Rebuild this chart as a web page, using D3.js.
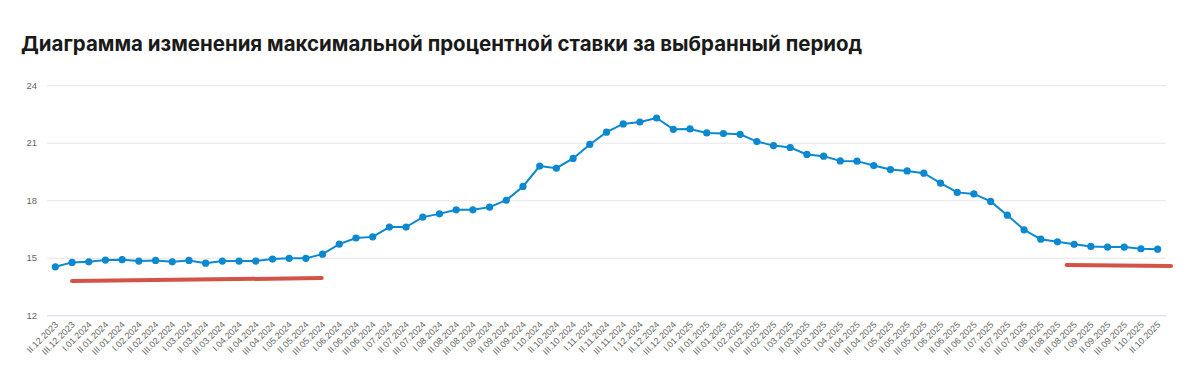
<!DOCTYPE html>
<html><head><meta charset="utf-8">
<script src="https://cdn.jsdelivr.net/npm/d3@7/dist/d3.min.js"></script>
<style>
html,body{margin:0;padding:0;background:#fff;}
svg{display:block;}
</style></head>
<body><svg id="c" width="1200" height="368"></svg>
<script>
const titleText = "Диаграмма изменения максимальной процентной ставки за выбранный период";

const categories = [
 "II.12.2023","III.12.2023",
 "I.01.2024","II.01.2024","III.01.2024","I.02.2024","II.02.2024","III.02.2024",
 "I.03.2024","II.03.2024","III.03.2024","I.04.2024","II.04.2024","III.04.2024",
 "I.05.2024","II.05.2024","III.05.2024","I.06.2024","II.06.2024","III.06.2024",
 "I.07.2024","II.07.2024","III.07.2024","I.08.2024","II.08.2024","III.08.2024",
 "I.09.2024","II.09.2024","III.09.2024","I.10.2024","II.10.2024","III.10.2024",
 "I.11.2024","II.11.2024","III.11.2024","I.12.2024","II.12.2024","III.12.2024",
 "I.01.2025","II.01.2025","III.01.2025","I.02.2025","II.02.2025","III.02.2025",
 "I.03.2025","II.03.2025","III.03.2025","I.04.2025","II.04.2025","III.04.2025",
 "I.05.2025","II.05.2025","III.05.2025","I.06.2025","II.06.2025","III.06.2025",
 "I.07.2025","II.07.2025","III.07.2025","I.08.2025","II.08.2025","III.08.2025",
 "I.09.2025","II.09.2025","III.09.2025","I.10.2025","II.10.2025"
];

const maxRate = [
 14.53,14.76,14.79,14.88,14.90,14.83,14.86,14.79,14.86,14.72,
 14.83,14.83,14.83,14.93,14.97,14.97,15.19,15.71,16.03,16.09,
 16.60,16.60,17.12,17.29,17.50,17.50,17.64,18.00,18.72,19.78,
 19.67,20.18,20.91,21.55,21.98,22.08,22.29,21.70,21.72,21.51,
 21.48,21.44,21.06,20.85,20.75,20.39,20.30,20.05,20.04,19.81,
 19.60,19.53,19.41,18.89,18.41,18.33,17.94,17.22,16.46,15.97,
 15.83,15.70,15.59,15.56,15.56,15.47,15.45
];

const yTicks = [12, 15, 18, 21, 24];

// highlight strokes (start index, end index, start value, end value)
const highlightStart = [1, 60.55];
const highlightEnd = [15.95, 66.8];
const highlightFrom = [13.79, 14.62];
const highlightTo = [13.94, 14.57];

const svg = d3.select("#c");
const plotLeft = 47, plotRight = 1166, plotTop = 85.2, plotBottom = 315.3;

// title
const title = svg.append("text")
  .attr("x", 21).attr("y", 51)
  .attr("font-family", "Inter, 'Noto Sans', sans-serif")
  .attr("font-weight", 700)
  .attr("font-size", 22)
  .attr("fill", "#1a1a1a")
  .text(titleText);
const tw = title.node().getComputedTextLength();
title.attr("font-size", 22 * 842 / tw);

const x = d3.scalePoint().domain(categories).range([plotLeft, plotRight]).padding(0.5);
const y = d3.scaleLinear().domain([12, 24]).range([plotBottom, plotTop]);
const xi = i => x(categories[0]) + i * x.step();

// grid
const yAxis = d3.axisLeft(y).tickValues(yTicks).tickSize(-(plotRight - plotLeft)).tickPadding(10);
const gy = svg.append("g").attr("transform", `translate(${plotLeft},0)`).call(yAxis);
gy.select(".domain").remove();
gy.selectAll(".tick line").attr("stroke", "#e6e6e6").attr("stroke-width", 1);
gy.selectAll(".tick text").attr("fill", "#666").attr("font-size", 9.5)
  .attr("font-family", "'Liberation Sans', Arial, sans-serif");
gy.selectAll(".tick").filter(d => d === 12).select("line").attr("stroke", "#ccd6eb");

// x axis labels
const xAxis = d3.axisBottom(x).tickSize(0).tickPadding(0);
const gx = svg.append("g").attr("transform", `translate(0,${plotBottom})`).call(xAxis);
gx.select(".domain").remove();
gx.selectAll(".tick text")
  .attr("fill", "#666").attr("font-size", 9)
  .attr("font-family", "'Liberation Sans', Arial, sans-serif")
  .attr("text-anchor", "end")
  .attr("dy", 0)
  .attr("transform", "translate(3,10) rotate(-45)");

// highlights
highlightStart.forEach((s, k) => {
  svg.append("line")
    .attr("x1", xi(s)).attr("y1", y(highlightFrom[k]))
    .attr("x2", xi(highlightEnd[k])).attr("y2", y(highlightTo[k]))
    .attr("stroke", "#d24a3e").attr("stroke-width", 4)
    .attr("stroke-linecap", "round").attr("opacity", 0.95);
});

// line
const line = d3.line().x((d, i) => x(categories[i])).y(d => y(d));
svg.append("path").datum(maxRate)
  .attr("d", line).attr("fill", "none")
  .attr("stroke", "#0a88d0").attr("stroke-width", 2);
svg.append("g").selectAll("circle").data(maxRate).join("circle")
  .attr("cx", (d, i) => x(categories[i])).attr("cy", d => y(d))
  .attr("r", 3.6).attr("fill", "#0a88d0");
</script>
</body></html>
